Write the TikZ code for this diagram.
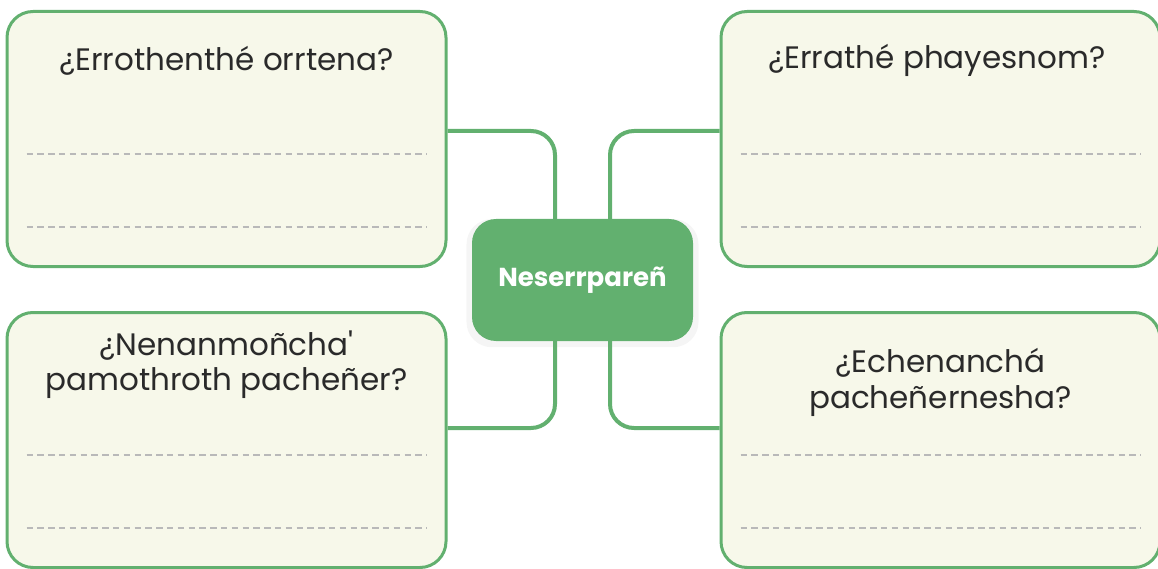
\documentclass[tikz,border=0pt]{standalone}
\usepackage{fontspec}
\setmainfont{Poppins}
\usepackage{tikz}
\usepackage{xcolor}
\usetikzlibrary{shadows}

\definecolor{leaf}{HTML}{62B06F}
\definecolor{cream}{HTML}{F7F8EA}
\definecolor{ink}{HTML}{2A2A2A}
\definecolor{pencil}{HTML}{B9B9B9}

\tikzset{
    qbox/.style={draw=leaf, line width=3pt, fill=cream, rounded corners=26pt,
        minimum width=439pt, minimum height=255pt, inner sep=0pt},
    hub/.style={fill=leaf, rounded corners=24pt, minimum width=221pt,
        minimum height=122pt, text=white, font=\fontsize{26}{30}\selectfont\bfseries,
        drop shadow={opacity=0.08, shadow xshift=0pt, shadow yshift=-3pt, shadow scale=1.05}},
    qtext/.style={text=ink, font=\fontsize{31}{35}\selectfont, align=center, inner sep=0pt},
    conn/.style={draw=leaf, line width=4pt, rounded corners=24pt},
    rule/.style={draw=pencil, line width=2.6pt, dash pattern=on 6.5pt off 4.3pt}
}

\begin{document}
\begin{tikzpicture}[x=1pt, y=-1pt]
    \useasboundingbox (0,0) rectangle (1158,569);

    % Question boxes
    \node[qbox] (tl) at (226.5,139) {};
    \node[qbox] (tr) at (940.5,139) {};
    \node[qbox] (bl) at (226.5,440) {};
    \node[qbox] (br) at (940.5,440) {};

    % Writing lines
    \foreach \b in {tl,tr,bl,br} {
        \draw[rule] ([shift={(21pt,-144pt)}]\b.north west) -- ([shift={(-21pt,-144pt)}]\b.north east);
        \draw[rule] ([shift={(21pt,-217pt)}]\b.north west) -- ([shift={(-21pt,-217pt)}]\b.north east);
    }

    % Questions
    \node[qtext, anchor=base] (tlq) at (226.5,71) {¿Errothenthé orrtena?};
    \node[qtext, anchor=base] (trq) at (937,69) {¿Errathé phayesnom?};
    \node[qtext] (blq) at (226.5,365) {¿Nenanmoñcha\textquotesingle\\pamothroth pacheñer?};
    \node[qtext] (brq) at (940.5,382) {¿Echenanchá\\[1pt]pacheñernesha?};

    % Centre topic
    \node[hub] (hub) at (582.5,280) {Neserrpareñ};

    % Branches
    \draw[conn] ([yshift=8pt]tl.east) -| ([xshift=-27.5pt]hub.north);
    \draw[conn] ([yshift=8pt]tr.west) -| ([xshift=27.5pt]hub.north);
    \draw[conn] ([yshift=12pt]bl.east) -| ([xshift=-27.5pt]hub.south);
    \draw[conn] ([yshift=12pt]br.west) -| ([xshift=27.5pt]hub.south);
\end{tikzpicture}
\end{document}
